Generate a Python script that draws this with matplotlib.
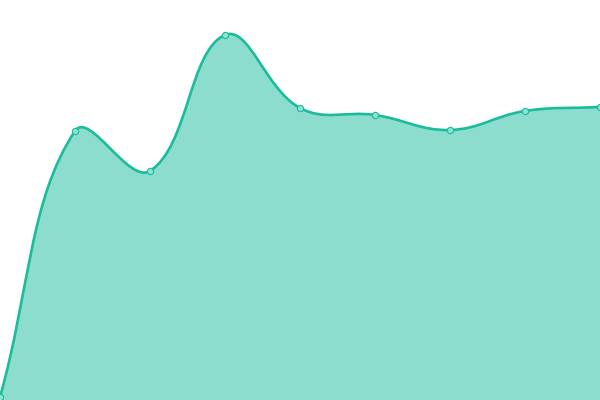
import numpy as np
import matplotlib
matplotlib.use("Agg")
import matplotlib.pyplot as plt
from matplotlib.path import Path
from matplotlib.patches import PathPatch

# values (chart is 600 wide, 400 tall, 0 at the bottom)
x_vals = [0, 75, 150, 225, 300, 375, 450, 525, 600]
y_vals = [3, 269, 229, 365, 292, 285, 270, 289, 293]

line_color = "#1abc9c"
fill_color = (26 / 255, 188 / 255, 156 / 255, 0.5)
tension = 0.4


def control_points(pts, t):
    # chart.js style spline control points
    out = []
    n = len(pts)
    for i in range(n):
        cur = pts[i]
        prev = pts[i - 1] if i > 0 else cur
        nxt = pts[i + 1] if i < n - 1 else cur
        d01 = np.hypot(*(cur - prev))
        d12 = np.hypot(*(nxt - cur))
        tot = d01 + d12
        s01 = d01 / tot if tot else 0
        s12 = d12 / tot if tot else 0
        out.append((cur - t * s01 * (nxt - prev), cur + t * s12 * (nxt - prev)))
    return out


pts = np.column_stack([x_vals, y_vals]).astype(float)
ctrl = control_points(pts, tension)

verts = [pts[0]]
codes = [Path.MOVETO]
for i in range(len(pts) - 1):
    verts += [ctrl[i][1], ctrl[i + 1][0], pts[i + 1]]
    codes += [Path.CURVE4] * 3
line_path = Path(verts, codes)

fill_verts = verts + [(x_vals[-1], 0), (x_vals[0], 0), pts[0]]
fill_codes = codes + [Path.LINETO, Path.LINETO, Path.CLOSEPOLY]
fill_path = Path(fill_verts, fill_codes)

fig = plt.figure(figsize=(6, 4), dpi=100)
ax = fig.add_axes([0, 0, 1, 1])
ax.add_patch(PathPatch(fill_path, facecolor=fill_color, edgecolor="none"))
ax.add_patch(PathPatch(line_path, facecolor="none", edgecolor=line_color, lw=1.9))
ax.plot(x_vals, y_vals, "o", ms=4.5, mfc="#8fe3d1", mec=line_color, mew=0.8, zorder=5)
ax.set_xlim(0, 600)
ax.set_ylim(0, 400)
ax.axis("off")

fig.savefig("out.png", dpi=100)
